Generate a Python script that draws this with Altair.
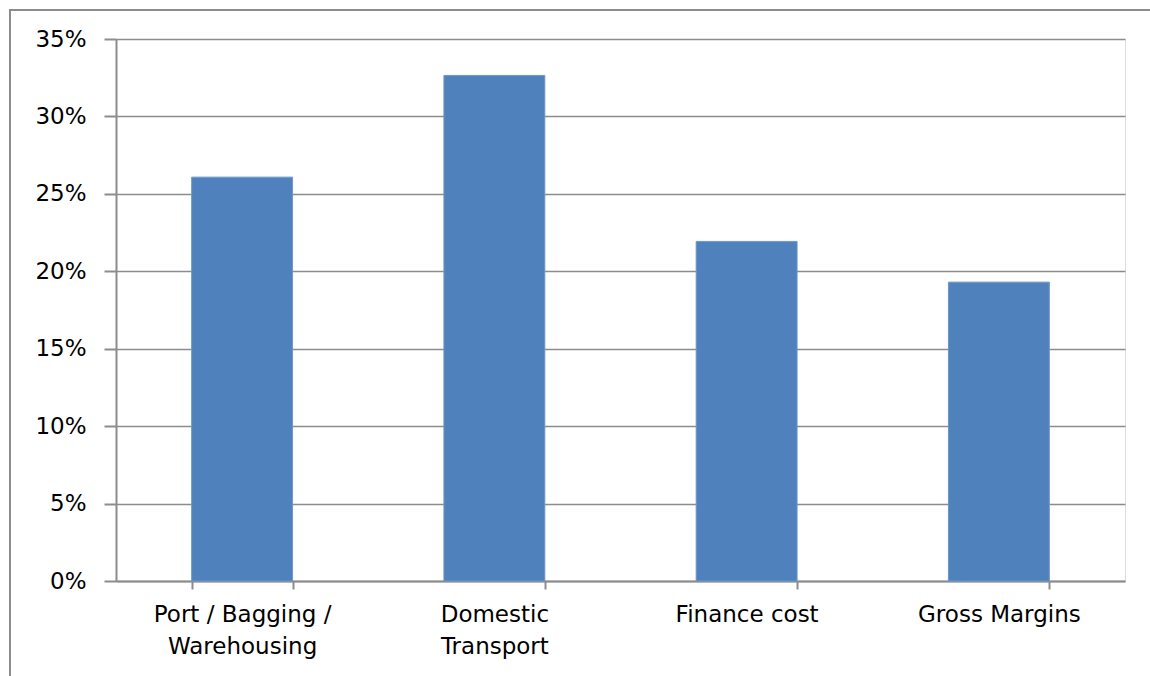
import altair as alt
import pandas as pd

categories = ["Port / Bagging /\nWarehousing", "Domestic\nTransport", "Finance cost", "Gross Margins"]
shares = [0.2608, 0.3265, 0.2193, 0.1930]
y_ticks = [0.0, 0.05, 0.10, 0.15, 0.20, 0.25, 0.30, 0.35]

df = pd.DataFrame({"category": categories, "share": shares})

FONT = "DejaVu Sans"
GRAY = "#8c8c8c"

bars = alt.Chart(df).mark_bar(color="#4f81bd", stroke="#6d96c9", strokeWidth=1).encode(
    x=alt.X("category:N", sort=categories, title=None,
            scale=alt.Scale(paddingInner=0.6, paddingOuter=0.3),
            axis=alt.Axis(labelAngle=0, labelExpr="split(datum.label, '\\n')",
                          labelFont=FONT, labelFontSize=23, labelColor="#000000",
                          labelLineHeight=32, labelPadding=14, labelBaseline="top",
                          tickBand="extent", tickSize=8, tickColor=GRAY, tickWidth=2,
                          domainColor=GRAY, domainWidth=2, grid=False)),
    y=alt.Y("share:Q", title=None,
            scale=alt.Scale(domain=[0, 0.35], nice=False),
            axis=alt.Axis(values=y_ticks, format=".0%", labelFont=FONT, labelFontSize=23,
                          labelColor="#000000", labelPadding=18, tickSize=12, tickColor=GRAY,
                          tickWidth=2, domainColor=GRAY, domainWidth=2,
                          grid=True, gridColor=GRAY, gridWidth=1.5)),
)

frame_top = alt.Chart(df).mark_rule(stroke=GRAY, strokeWidth=2, clip=False).encode(
    x=alt.value(-107), x2=alt.value(1060), y=alt.value(-29)
)
frame_left = alt.Chart(df).mark_rule(stroke=GRAY, strokeWidth=2, clip=False).encode(
    x=alt.value(-106), y=alt.value(-30), y2=alt.value(660)
)

chart = alt.layer(bars, frame_top, frame_left).properties(
    width=1009, height=542,
    padding={"left": 116, "top": 39, "right": 25, "bottom": 95},
    autosize=alt.AutoSizeParams(type="none"),
).configure_view(stroke="transparent", strokeWidth=0).configure(background="#ffffff")

chart.save("out.html", embed_options={"renderer": "svg", "actions": False})
